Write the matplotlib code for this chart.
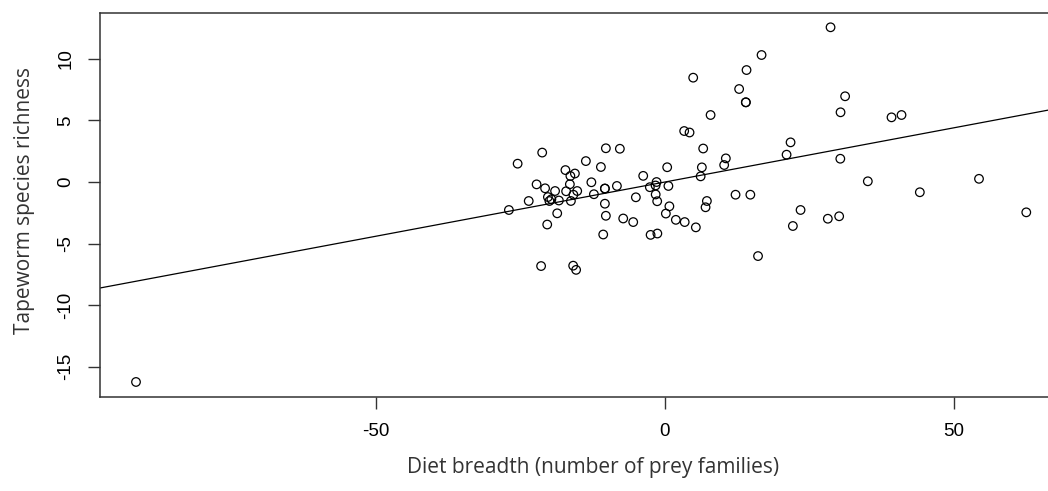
import matplotlib
matplotlib.use("Agg")
import matplotlib.pyplot as plt
import numpy as np

# Diet breadth (x) and tapeworm species richness (y)
diet_breadth = [
    16.73, 14.13, 4.90, 12.85, 14.01, 14.01, 7.91, 3.34, 4.27, -21.23,
    -25.48, -10.21, -7.79, 6.63, 10.55, 10.26, -13.67, -17.21, -15.57, -16.35,
    -11.07, 0.40, 6.40, -3.75, 6.19, -22.20, -20.73, -19.00, -16.44, -17.09,
    -15.17, -12.72, -10.38, -10.38, -8.30, -1.44, -1.61, -2.60, 0.61, -12.28,
    -15.83, -20.24, -19.64, -19.98, -18.34, -16.26, -23.56, -26.99, -5.02, -1.59,
    -1.33, -10.38, -18.63, -20.36, -10.21, -7.21, -5.48, -10.67, -2.47, -1.30,
    0.78, 0.17, 1.90, 3.43, 5.36, 7.27, 7.04, 12.23, 14.79, 16.12,
    -21.42, -15.87, -15.36, 28.67, 31.19, 30.40, 39.22, 40.95, 21.75, 21.06,
    30.36, 35.12, 54.36, 44.12, 23.48, 22.15, 28.20, 30.16, 62.54, -91.52,
]
species_richness = [
    10.31, 9.09, 8.47, 7.55, 6.47, 6.47, 5.44, 4.14, 4.02, 2.39,
    1.49, 2.74, 2.70, 2.72, 1.92, 1.38, 1.70, 0.97, 0.69, 0.49,
    1.22, 1.20, 1.19, 0.50, 0.46, -0.19, -0.51, -0.73, -0.18, -0.75,
    -0.73, -0.02, -0.53, -0.53, -0.32, 0.00, -0.28, -0.42, -0.32, -0.99,
    -1.03, -1.22, -1.40, -1.54, -1.50, -1.54, -1.54, -2.27, -1.24, -1.01,
    -1.56, -1.76, -2.54, -3.45, -2.74, -2.96, -3.25, -4.26, -4.29, -4.18,
    -1.97, -2.56, -3.07, -3.25, -3.68, -1.54, -2.05, -1.03, -1.03, -6.01,
    -6.82, -6.79, -7.13, 12.56, 6.96, 5.66, 5.25, 5.44, 3.22, 2.22,
    1.89, 0.06, 0.26, -0.83, -2.27, -3.57, -2.98, -2.78, -2.46, -16.23,
]

# fitted regression line (intercept, slope)
fit_intercept = 0.0
fit_slope = 0.088

x_ticks = [-50, 0, 50]
y_ticks = [-15, -10, -5, 0, 5, 10]

x_label = "Diet breadth (number of prey families)"
y_label = "Tapeworm species richness"

W, H = 1048, 491
fig = plt.figure(figsize=(W / 100, H / 100), dpi=100)
ax = fig.add_axes([100 / W, 1 - 397 / H, (W - 100) / W + 0.01, (397 - 13) / H])

x0, x1 = -97.75, 66.3 + 0.01 * W / 5.78
ax.set_xlim(x0, x1)
ax.set_ylim(-17.45, 13.72)

ax.scatter(diet_breadth, species_richness, s=38, facecolors="none",
           edgecolors="black", linewidths=0.9, zorder=3)

xx = np.array([x0, x1])
ax.plot(xx, fit_intercept + fit_slope * xx, color="black", lw=0.9, zorder=2)

for side in ["top", "bottom", "left", "right"]:
    ax.spines[side].set_color("#333333")
    ax.spines[side].set_linewidth(1.1)
ax.spines["right"].set_visible(False)

tick_font = dict(family=["Liberation Sans", "DejaVu Sans"], size=13.5)
ax.set_xticks(x_ticks)
ax.set_xticklabels([str(v) for v in x_ticks], fontdict=tick_font)
ax.set_yticks(y_ticks)
ax.set_yticklabels([str(v) for v in y_ticks], fontdict=tick_font,
                   rotation=90, va="center")
ax.tick_params(axis="both", length=8.5, width=1.0, color="#333333",
               direction="out")
ax.tick_params(axis="x", pad=10)
ax.tick_params(axis="y", pad=10)

label_font = dict(family=["Open Sans", "DejaVu Sans"], size=15, color="#333333")
fig.text(593 / W, 1 - 467 / H, x_label,
         ha="center", va="center", **label_font)
fig.text(25 / W, 1 - 201 / H, y_label, rotation=90,
         ha="center", va="center", **label_font)

fig.savefig("out.png", dpi=100)
